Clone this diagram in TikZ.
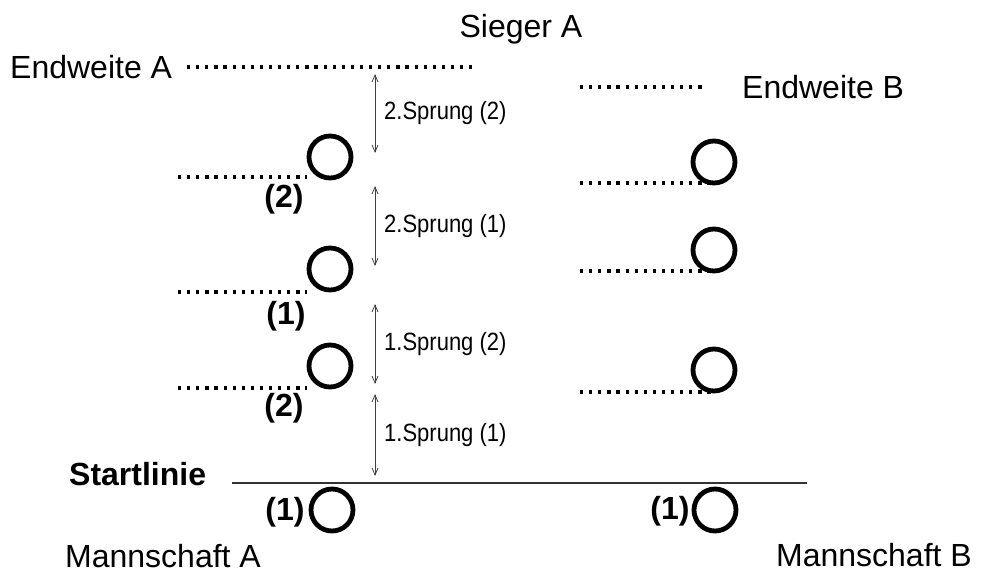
\documentclass[tikz,border=0pt]{standalone}
\usepackage{fontspec}
\setmainfont{Liberation Sans}
\usetikzlibrary{arrows.meta}
\begin{document}
\begin{tikzpicture}[x=1pt,y=-1pt,
  big/.style={font=\fontsize{32}{38}\selectfont, inner sep=0pt},
  bigb/.style={font=\bfseries\fontsize{32}{38}\selectfont, inner sep=0pt},
  small/.style={font=\fontsize{25}{30}\selectfont, inner sep=0pt, anchor=west},
  ring/.style={circle, draw, line width=4.8pt, minimum size=42pt, inner sep=0pt},
  dots/.style={line width=3.2pt, dash pattern=on 3.2pt off 5.9pt},
  jump/.style={draw=black!75, line width=0.8pt, {Straight Barb[length=7pt,width=6pt]}-{Straight Barb[length=7pt,width=6pt]}}
]
\useasboundingbox (0,0) rectangle (982,574);

% texts
\node[big, anchor=base] (sieger) at (521,37) {Sieger A};
\node[big, anchor=base west] (endA) at (10,78) {Endweite A};
\node[big, anchor=base west] (endB) at (742,98) {Endweite B};
\node[bigb, anchor=base west] (start) at (69,485) {Startlinie};
\node[big, anchor=base west] (mA) at (65,567) {Mannschaft A};
\node[big, anchor=base east] (mB) at (972,566) {Mannschaft B};

% circles left
\node[ring] (a0) at (332,510) {};
\node[ring] (a1) at (330,366) {};
\node[ring] (a2) at (330,269) {};
\node[ring] (a3) at (330,157) {};
% circles right
\node[ring] (b0) at (715,510) {};
\node[ring] (b1) at (714,370) {};
\node[ring] (b2) at (714,250) {};
\node[ring] (b3) at (714,162) {};

% bold labels
\node[bigb] (la0) at (285,512) {(1)};
\node[bigb] (la1) at (284,408) {(2)};
\node[bigb] (la2) at (286,316) {(1)};
\node[bigb] (la3) at (284,199) {(2)};
\node[bigb] (lb0) at (670,511) {(1)};

% start line
\coordinate (s1) at (232,483);
\coordinate (s2) at (807,483);
\draw[line width=1.3pt, black!80] (s1) -- (s2);

% dotted lines
\coordinate (dA1) at (187,67); \coordinate (dA2) at (476,67);
\coordinate (dB1) at (580,87); \coordinate (dB2) at (707,87);
\draw[dots] (dA1) -- (dA2);
\draw[dots] (dB1) -- (dB2);
\coordinate (l3) at (178,177); \coordinate (l2) at (178,292); \coordinate (l1) at (178,388);
\draw[dots] (l3) -- (l3 -| a3.west);
\draw[dots] (l2) -- (l2 -| a2.west);
\draw[dots] (l1) -- (l1 -| a1.west);
\coordinate (r3) at (580,183); \coordinate (r2) at (580,271); \coordinate (r1) at (580,392);
\draw[dots] (r3) -- (r3 -| b3.south);
\draw[dots] (r2) -- (r2 -| b2.south);
\draw[dots] (r1) -- (r1 -| b1.south);

% jump arrows
\coordinate (j4t) at (375,74);  \coordinate (j4b) at (375,153);
\coordinate (j3t) at (375,186); \coordinate (j3b) at (375,266);
\coordinate (j2t) at (375,304); \coordinate (j2b) at (375,384);
\coordinate (j1t) at (375,394); \coordinate (j1b) at (375,476);
\draw[jump] (j4t) -- (j4b);
\draw[jump] (j3t) -- (j3b);
\draw[jump] (j2t) -- (j2b);
\draw[jump] (j1t) -- (j1b);

\node[small] (t4) at (384,113) {\scalebox{0.88}[1]{2.Sprung (2)}};
\node[small] (t3) at (384,226) {\scalebox{0.88}[1]{2.Sprung (1)}};
\node[small] (t2) at (384,344) {\scalebox{0.88}[1]{1.Sprung (2)}};
\node[small] (t1) at (384,435) {\scalebox{0.88}[1]{1.Sprung (1)}};
\end{tikzpicture}
\end{document}
